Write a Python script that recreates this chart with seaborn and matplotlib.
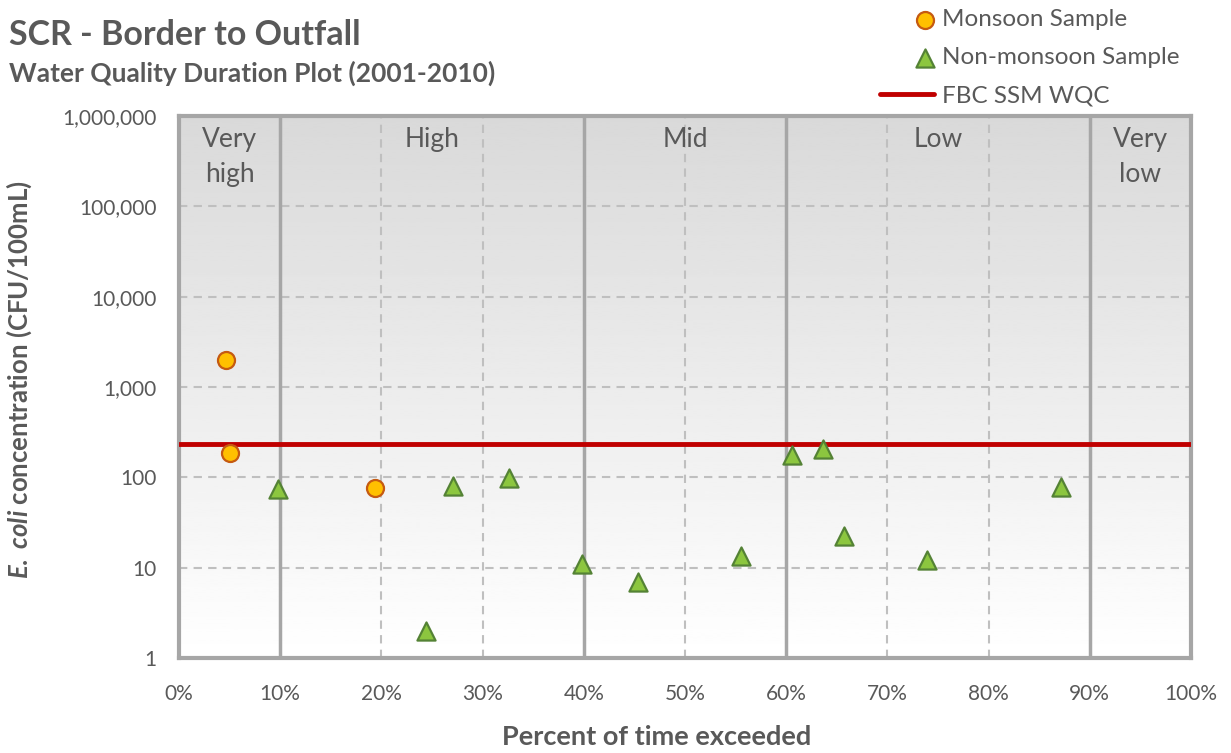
import numpy as np
import pandas as pd
import matplotlib
matplotlib.use("Agg")
import matplotlib.pyplot as plt
from matplotlib.legend_handler import HandlerPathCollection
from matplotlib.collections import PathCollection
import seaborn as sns

monsoon_pct = [4.6, 5.0, 19.4]
monsoon_ecoli = [2000, 185, 76]
nonmonsoon_pct = [9.8, 24.4, 27.1, 32.6, 39.8, 45.4, 55.5, 60.6, 63.6, 65.7, 73.9, 87.2]
nonmonsoon_ecoli = [74, 2, 80, 98, 11, 7, 13.5, 175, 205, 22.5, 12, 78]
wqc_value = 235

zone_bounds = [10, 40, 60, 90]
zone_names = ["Very\nhigh", "High", "Mid", "Low", "Very\nlow"]
zone_centers = [5, 25, 50, 75, 95]
x_ticks = list(range(0, 101, 10))
y_ticks = [1, 10, 100, 1000, 10000, 100000, 1000000]

df_mon = pd.DataFrame({"pct": monsoon_pct, "ecoli": monsoon_ecoli})
df_non = pd.DataFrame({"pct": nonmonsoon_pct, "ecoli": nonmonsoon_ecoli})


class RightMarkerHandler(HandlerPathCollection):
    # put the scatter marker at the right end of the handle, like Excel
    def get_xdata(self, legend, xdescent, ydescent, width, height, fontsize):
        x = -xdescent + width - 0.35 * fontsize
        return [x], [x]


sns.set_style("white")
plt.rcParams["font.family"] = ["Lato", "DejaVu Sans"]
plt.rcParams["mathtext.fontset"] = "custom"
plt.rcParams["mathtext.it"] = "Lato:italic:bold"
plt.rcParams["mathtext.rm"] = "Lato:bold"
plt.rcParams["mathtext.bf"] = "Lato:bold"

txt = "#595959"
fig = plt.figure(figsize=(12.31, 7.53), dpi=100)
ax = fig.add_axes([0.1454, 0.1262, 0.8221, 0.7198])

# grey (top) to white (bottom) gradient background
grad = np.linspace(0.85, 1.0, 256).reshape(-1, 1)
ax.imshow(grad, extent=[0, 1, 0, 1], origin="upper", transform=ax.transAxes,
          cmap="gray", vmin=0, vmax=1, aspect="auto", zorder=0)

ax.set_yscale("log")
ax.set_xlim(0, 100)
ax.set_ylim(1, 1000000)

# grid lines
for yv in y_ticks[1:-1]:
    ax.axhline(yv, color="#bfbfbf", lw=1.5, ls=(0, (4, 3)), zorder=1)
for xv in x_ticks[1:-1]:
    if xv in zone_bounds:
        ax.axvline(xv, color="#a6a6a6", lw=2.5, zorder=1)
    else:
        ax.axvline(xv, color="#bfbfbf", lw=1.5, ls=(0, (4, 3)), zorder=1)

for name, xc in zip(zone_names, zone_centers):
    ax.text(xc, 750000, name, ha="center", va="top", fontsize=19, color=txt,
            linespacing=1.5, zorder=2)

ax.axhline(wqc_value, color="#c00000", lw=3.5, zorder=3, label="FBC SSM WQC")

sns.scatterplot(data=df_mon, x="pct", y="ecoli", ax=ax, marker="o", s=150,
                color="#ffc000", edgecolor="#c55a11", linewidth=1.6, zorder=4,
                label="Monsoon Sample")
sns.scatterplot(data=df_non, x="pct", y="ecoli", ax=ax, marker="^", s=170,
                color="#8cc63f", edgecolor="#548235", linewidth=1.6, zorder=4,
                label="Non-monsoon Sample")

ax.set_xticks(x_ticks)
ax.set_xticklabels([f"{v}%" for v in x_ticks])
ax.set_yticks(y_ticks)
ax.set_yticklabels([f"{v:,}" for v in y_ticks])
ax.xaxis.set_minor_locator(matplotlib.ticker.MultipleLocator(2.5))
ax.yaxis.set_minor_locator(matplotlib.ticker.NullLocator())
ax.tick_params(axis="x", which="both", direction="in", length=5, color="#bfbfbf",
               labelsize=15, labelcolor=txt, pad=19)
ax.tick_params(axis="y", which="both", length=0, labelsize=15, labelcolor=txt, pad=16)

for sp in ax.spines.values():
    sp.set_visible(True)
    sp.set_color("#a6a6a6")
    sp.set_linewidth(3)

ax.set_xlabel("Percent of time exceeded", fontsize=19.5, fontweight="bold", color=txt)
ax.xaxis.set_label_coords(0.472, -0.123)
ax.set_ylabel(r"$E.\ coli$ concentration (CFU/100mL)", fontsize=18.5,
              fontweight="bold", color=txt)
ax.yaxis.set_label_coords(-0.143, 0.513)

fig.text(0.007, 0.953, "SCR - Border to Outfall", fontsize=24.5, fontweight="bold",
         color=txt, va="center")
fig.text(0.007, 0.902, "Water Quality Duration Plot (2001-2010)", fontsize=19,
         fontweight="bold", color=txt, va="center")

handles, labels = ax.get_legend_handles_labels()
order = [labels.index(l) for l in ["Monsoon Sample", "Non-monsoon Sample", "FBC SSM WQC"]]
leg = ax.legend([handles[i] for i in order], [labels[i] for i in order],
                loc="upper left", bbox_to_anchor=(0.693, 1.197), frameon=False,
                fontsize=17.5, labelcolor=txt, handlelength=2.2, handletextpad=0.35,
                labelspacing=0.7, borderaxespad=0, borderpad=0,
                handler_map={PathCollection: RightMarkerHandler()})

fig.savefig("out.png", dpi=100)
